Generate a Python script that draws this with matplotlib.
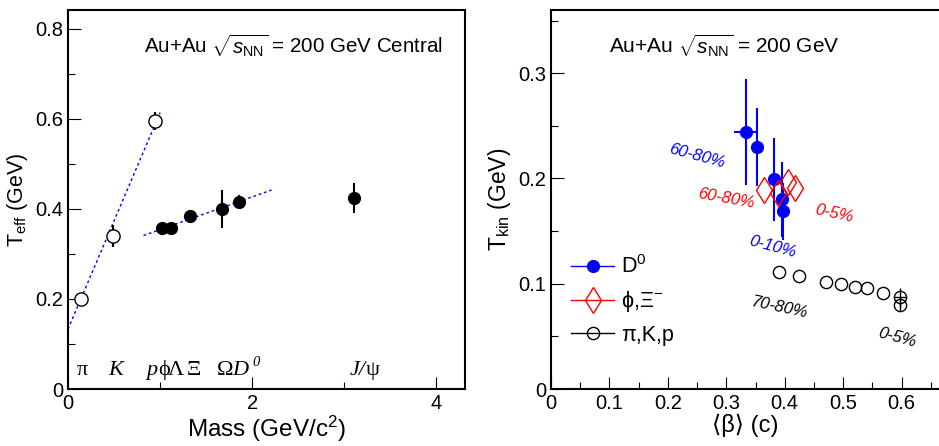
import numpy as np
import matplotlib
matplotlib.use("Agg")
import matplotlib.pyplot as plt
from matplotlib.lines import Line2D
from matplotlib.ticker import MultipleLocator, FuncFormatter

plt.rcParams["font.family"] = ["Liberation Sans", "DejaVu Sans"]
plt.rcParams["mathtext.fontset"] = "custom"
plt.rcParams["mathtext.rm"] = "Liberation Sans"
plt.rcParams["mathtext.it"] = "Liberation Sans:italic"

# Left panel: effective temperature vs mass (Au+Au central)
light_mass = [0.14, 0.49, 0.94]
light_teff = [0.199, 0.340, 0.596]
light_err = [0.008, 0.025, 0.020]

heavy_mass = [1.02, 1.12, 1.32, 1.67, 1.86, 3.10]
heavy_teff = [0.358, 0.358, 0.384, 0.399, 0.416, 0.424]
heavy_err = [0.005, 0.005, 0.006, 0.042, 0.016, 0.034]

fit1_x = [0.0, 1.0]
fit1_y = [0.133, 0.614]
fit2_x = [0.82, 2.21]
fit2_y = [0.341, 0.442]

# particle names under the points
species_x = [0.16, 0.52, 0.915, 1.04, 1.175, 1.37, 1.71, 1.875, 3.14, 3.31]
species_txt = ["π", "K", "p", "ϕ", "Λ", "Ξ", "Ω", "D", "J/", "ψ"]
species_it = [False, True, True, False, False, False, False, True, True, False]

# Right panel: Tkin vs <beta>
d0_beta = [0.333, 0.352, 0.382, 0.396, 0.397]
d0_tkin = [0.244, 0.230, 0.199, 0.180, 0.169]
d0_yerr = [0.050, 0.037, 0.039, 0.036, 0.027]
d0_xerr = [0.020, 0.0, 0.0, 0.0, 0.0]

phixi_beta = [0.365, 0.388, 0.406, 0.418]
phixi_tkin = [0.189, 0.186, 0.197, 0.191]

pkp_beta = [0.390, 0.424, 0.470, 0.497, 0.521, 0.541, 0.569, 0.597, 0.598]
pkp_tkin = [0.111, 0.107, 0.102, 0.100, 0.097, 0.096, 0.091, 0.087, 0.080]
pkp_yerr = [0, 0, 0, 0, 0, 0, 0, 0.009, 0.006]
pkp_xerr = [0, 0, 0, 0, 0, 0, 0, 0.010, 0]

fig = plt.figure(figsize=(9.39, 4.46), dpi=100)
ax1 = fig.add_axes([0.0724, 0.1278, 0.4228, 0.8498])
ax2 = fig.add_axes([0.5868, 0.1278, 0.4132, 0.8498])

zero_fmt = FuncFormatter(lambda v, p: "0" if abs(v) < 1e-9 else f"{v:g}")

for ax in (ax1, ax2):
    ax.tick_params(which="both", direction="in", top=False, right=False,
                   labelsize=14.5, width=0.8)
    ax.tick_params(which="major", length=9)
    ax.tick_params(which="minor", length=5)
    for s in ax.spines.values():
        s.set_linewidth(1.5)
    ax.xaxis.set_major_formatter(zero_fmt)
    ax.yaxis.set_major_formatter(zero_fmt)

# ---- left panel
ax1.plot(fit1_x, fit1_y, ls=(0, (2, 2)), color="blue", lw=1)
ax1.plot(fit2_x, fit2_y, ls=(0, (2, 2)), color="blue", lw=1)
ax1.errorbar(light_mass, light_teff, yerr=light_err, fmt="o", ms=9.5,
             mfc="white", mec="black", mew=1, ecolor="black", elinewidth=1.5,
             capsize=0, zorder=3)
ax1.errorbar(heavy_mass, heavy_teff, yerr=heavy_err, fmt="o", ms=8.5,
             mfc="black", mec="black", ecolor="black", elinewidth=1.5,
             capsize=0, zorder=3)
serif = ["Liberation Serif", "DejaVu Serif"]
for x, s, it in zip(species_x, species_txt, species_it):
    ax1.text(x, 0.031, s, ha="center", va="baseline", fontsize=16,
             family=serif, style="italic" if it else "normal")
ax1.text(2.0, 0.050, "0", ha="left", va="baseline", fontsize=10.5,
         family=serif, style="italic")
ax1.set_xlim(0, 4.31)
ax1.set_ylim(0, 0.842)
ax1.xaxis.set_major_locator(MultipleLocator(2))
ax1.xaxis.set_minor_locator(MultipleLocator(1))
ax1.yaxis.set_major_locator(MultipleLocator(0.2))
ax1.yaxis.set_minor_locator(MultipleLocator(0.1))
ax1.text(0.945, 0.905, r"Au+Au $\sqrt{s_{\mathrm{NN}}}$ = 200 GeV Central",
         transform=ax1.transAxes, ha="right", va="center", fontsize=14.8)
ax1.set_xlabel(r"Mass (GeV/c$^2$)", fontsize=17.5, labelpad=1)
ax1.set_ylabel(r"T$_{\mathrm{eff}}$ (GeV)", fontsize=15.5, labelpad=4)

# ---- right panel
ax2.spines["right"].set_visible(False)
ax2.errorbar(pkp_beta, pkp_tkin, xerr=pkp_xerr, yerr=pkp_yerr, fmt="o",
             ms=8.8, mfc="none", mec="black", mew=1, ecolor="black",
             elinewidth=1, capsize=0, zorder=3)
ax2.errorbar(d0_beta, d0_tkin, xerr=d0_xerr, yerr=d0_yerr, fmt="o", ms=8.5,
             mfc="blue", mec="blue", ecolor="blue", elinewidth=1.5,
             capsize=0, zorder=4)
ax2.plot(phixi_beta, phixi_tkin, ls="none", marker="d", ms=13, mfc="none",
         mec="red", mew=1, zorder=5)
ax2.set_xlim(0, 0.664)
ax2.set_ylim(0, 0.36)
ax2.xaxis.set_major_locator(MultipleLocator(0.1))
ax2.xaxis.set_minor_locator(MultipleLocator(0.05))
ax2.yaxis.set_major_locator(MultipleLocator(0.1))
ax2.yaxis.set_minor_locator(MultipleLocator(0.05))
ax2.text(0.15, 0.905, r"Au+Au $\sqrt{s_{\mathrm{NN}}}$ = 200 GeV",
         transform=ax2.transAxes, ha="left", va="center", fontsize=15)
ax2.set_xlabel("⟨β⟩ (c)", fontsize=17, labelpad=1)
ax2.set_ylabel(r"T$_{\mathrm{kin}}$ (GeV)", fontsize=16.5, labelpad=4)

notes = [
    (0.249, 0.221, "60-80%", "blue", -15),
    (0.299, 0.181, "60-80%", "red", -10),
    (0.485, 0.167, "0-5%", "red", -12),
    (0.380, 0.135, "0-10%", "blue", -15),
    (0.390, 0.077, "70-80%", "black", -12),
    (0.593, 0.049, "0-5%", "black", -15),
]
for x, y, s, c, rot in notes:
    ax2.text(x, y, s, color=c, rotation=rot, style="italic", fontsize=12,
             ha="center", va="center", rotation_mode="anchor")

handles = [
    Line2D([], [], color="blue", marker="o", ms=8.5, mfc="blue", mec="blue", lw=1),
    Line2D([], [], color="red", marker="d", ms=13, mfc="none", mec="red", lw=1),
    Line2D([], [], color="black", marker="o", ms=8.8, mfc="none", mec="black", lw=1),
]
labels = [r"D$^0$", r"ϕ,Ξ$^{-}$", "π,K,p"]
ax2.legend(handles, labels, loc="upper left", bbox_to_anchor=(0.03, 0.375),
           frameon=False, fontsize=15.5, handlelength=2.0, handletextpad=0.3,
           labelspacing=0.5, borderaxespad=0)

fig.savefig("out.png", dpi=100)
